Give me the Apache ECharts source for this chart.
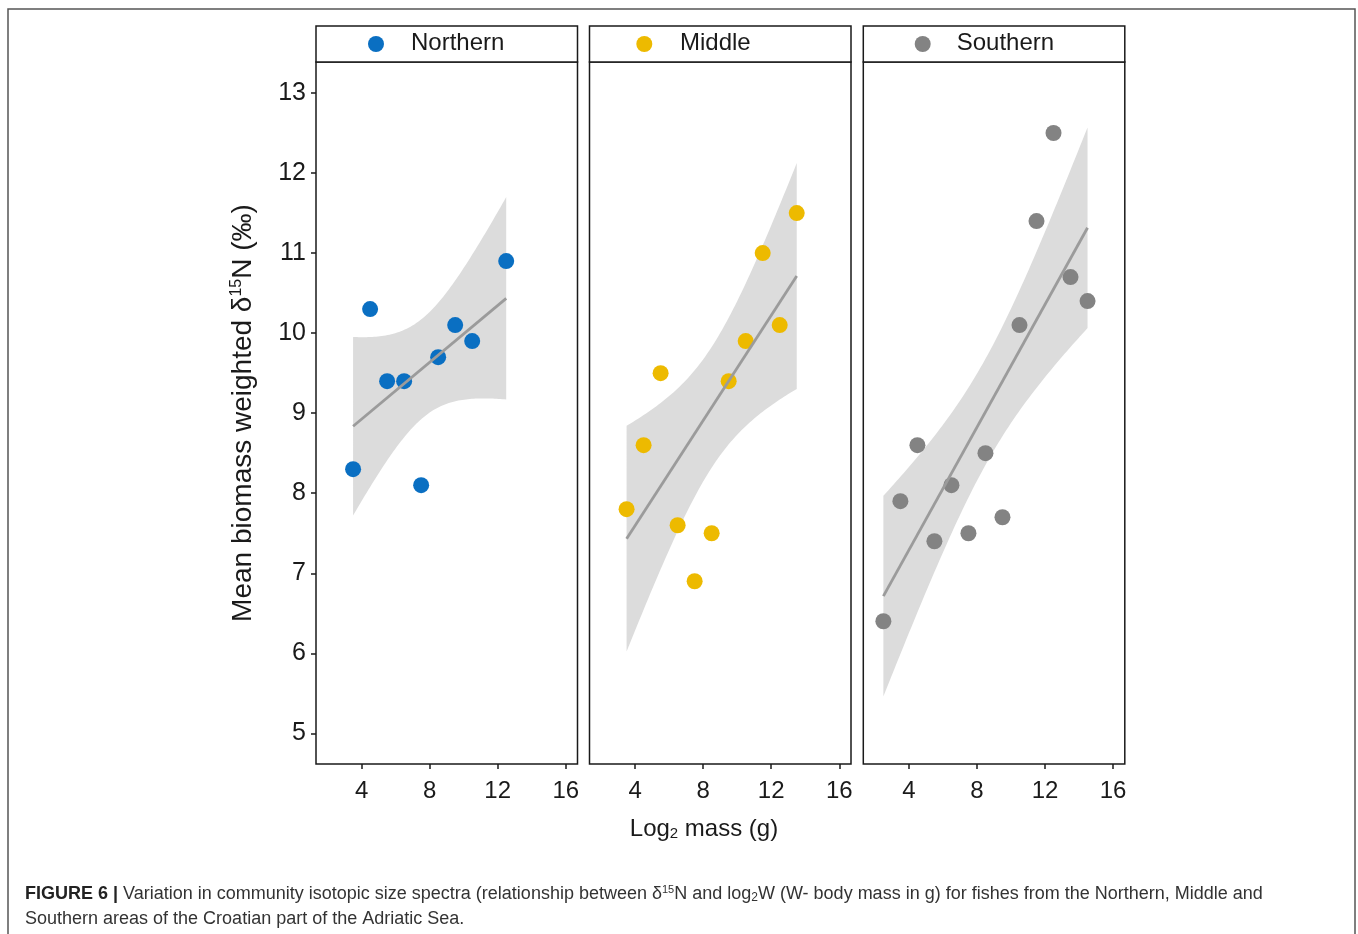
<!DOCTYPE html>
<html>
<head>
<meta charset="utf-8">
<script src="https://cdn.jsdelivr.net/npm/echarts@6/dist/echarts.min.js"></script>
<style>
  html, body { margin: 0; padding: 0; background: #fff; }
  #chart { width: 1358px; height: 934px; }
</style>
</head>
<body>
<div id="chart"></div>
<script>
// tick labels
const xTicks = [4, 8, 12, 16];
const yTicks = [5, 6, 7, 8, 9, 10, 11, 12, 13];

// panels
const areas = ["Northern", "Middle", "Southern"];
const colors = ["#0A6FC2", "#EDBA00", "#838383"];

// log2 mass (g) and mean biomass weighted d15N per panel
const northX = [3.5, 4.5, 5.5, 6.5, 7.5, 8.5, 9.5, 10.5, 12.5];
const northY = [8.3, 10.3, 9.4, 9.4, 8.1, 9.7, 10.1, 9.9, 10.9];
const middleX = [3.5, 4.5, 5.5, 6.5, 7.5, 8.5, 9.5, 10.5, 11.5, 12.5, 13.5];
const middleY = [7.8, 8.6, 9.5, 7.6, 6.9, 7.5, 9.4, 9.9, 11.0, 10.1, 11.5];
const southX = [2.5, 3.5, 4.5, 5.5, 6.5, 7.5, 8.5, 9.5, 10.5, 11.5, 12.5, 13.5, 14.5];
const southY = [6.4, 7.9, 8.6, 7.4, 8.1, 7.5, 8.5, 7.7, 10.1, 11.4, 12.5, 10.7, 10.4];

const panelX = [northX, middleX, southX];
const panelY = [northY, middleY, southY];

// t quantiles (0.975) for the 95% band, by residual df
const tQuant = { 7: 2.3646, 9: 2.2622, 11: 2.2010 };

// linear fit + confidence band, like geom_smooth(method = "lm")
function lmFit(xs, ys) {
    const n = xs.length;
    const mx = xs.reduce((a, b) => a + b, 0) / n;
    const my = ys.reduce((a, b) => a + b, 0) / n;
    let sxx = 0, sxy = 0;
    xs.forEach((x, i) => {
        sxx += (x - mx) * (x - mx);
        sxy += (x - mx) * (ys[i] - my);
    });
    const b = sxy / sxx;
    const a = my - b * mx;
    let ssr = 0;
    xs.forEach((x, i) => {
        const r = ys[i] - (a + b * x);
        ssr += r * r;
    });
    const s = Math.sqrt(ssr / (n - 2));
    const t = tQuant[n - 2];
    const x0 = Math.min(...xs);
    const x1 = Math.max(...xs);
    const band = [];
    for (let k = 0; k <= 80; k++) {
        const x = x0 + ((x1 - x0) * k) / 80;
        const fit = a + b * x;
        const se = s * Math.sqrt(1 / n + ((x - mx) * (x - mx)) / sxx);
        band.push([x, fit - t * se, fit + t * se]);
    }
    return { line: [[x0, a + b * x0], [x1, a + b * x1]], band };
}

const lefts = [316, 589.5, 863.3];
const plotW = 261.5;
const plotTop = 62;
const plotH = 702;

const grid = [];
const xAxis = [];
const yAxis = [];
const series = [];
const graphic = [];

const stripDotX = [376, 644.3, 922.7];
const stripTextX = [411, 680, 956.7];

areas.forEach((name, i) => {
    grid.push({
        left: lefts[i],
        top: plotTop,
        width: plotW,
        height: plotH,
        show: true,
        borderColor: "#1a1a1a",
        borderWidth: 1.5,
        backgroundColor: "#fff"
    });
    xAxis.push({
        type: "value",
        gridIndex: i,
        min: 1.32,
        max: 16.69,
        axisLine: { show: false },
        axisTick: {
            show: true,
            inside: false,
            length: 5,
            customValues: xTicks,
            lineStyle: { color: "#1a1a1a", width: 1.5 }
        },
        axisLabel: {
            show: true,
            customValues: xTicks,
            margin: 15,
            color: "#1a1a1a",
            fontSize: 24,
            fontFamily: "Liberation Sans"
        },
        splitLine: { show: false }
    });
    yAxis.push({
        type: "value",
        gridIndex: i,
        min: 4.617,
        max: 13.387,
        name: i === 0 ? "{a|Mean biomass weighted δ}{s|15}{a|N (‰)}" : "",
        nameLocation: "middle",
        nameGap: 59,
        nameRotate: 90,
        nameTextStyle: {
            rich: {
                a: { fontSize: 28, color: "#1a1a1a", fontFamily: "Liberation Sans" },
                s: { fontSize: 16, color: "#1a1a1a", fontFamily: "Liberation Sans", verticalAlign: "top", padding: [0, 0, 12, 0] }
            }
        },
        axisLine: { show: false },
        axisTick: {
            show: i === 0,
            inside: false,
            length: 5,
            customValues: yTicks,
            lineStyle: { color: "#1a1a1a", width: 1.5 }
        },
        axisLabel: {
            show: i === 0,
            customValues: yTicks,
            margin: 10,
            color: "#1a1a1a",
            fontSize: 25,
            fontFamily: "Liberation Sans"
        },
        splitLine: { show: false }
    });

    const fit = lmFit(panelX[i], panelY[i]);

    series.push({
        type: "custom",
        xAxisIndex: i,
        yAxisIndex: i,
        data: fit.band,
        encode: { x: 0, y: [1, 2] },
        silent: true,
        z: 1,
        renderItem: function (params, api) {
            if (params.dataIndex !== 0) return;
            const upper = fit.band.map((d) => api.coord([d[0], d[2]]));
            const lower = fit.band.map((d) => api.coord([d[0], d[1]])).reverse();
            return {
                type: "polygon",
                shape: { points: upper.concat(lower) },
                style: { fill: "#dcdcdc" }
            };
        }
    });
    series.push({
        type: "scatter",
        xAxisIndex: i,
        yAxisIndex: i,
        data: panelX[i].map((x, k) => [x, panelY[i][k]]),
        symbolSize: 16,
        itemStyle: { color: colors[i], opacity: 1 },
        z: 2
    });
    series.push({
        type: "line",
        xAxisIndex: i,
        yAxisIndex: i,
        data: fit.line,
        showSymbol: false,
        lineStyle: { color: "#9b9b9b", width: 2.8 },
        z: 3
    });

    // strip box on top of each panel
    graphic.push({
        type: "rect",
        shape: { x: lefts[i], y: 26, width: plotW, height: 36 },
        style: { fill: "#fff", stroke: "#1a1a1a", lineWidth: 1.5 }
    });
    graphic.push({
        type: "circle",
        shape: { cx: stripDotX[i], cy: 44, r: 8 },
        style: { fill: colors[i] }
    });
    graphic.push({
        type: "text",
        x: stripTextX[i],
        y: 43,
        style: {
            text: name,
            fontSize: 24,
            fontFamily: "Liberation Sans",
            fill: "#1a1a1a",
            verticalAlign: "middle"
        }
    });
});

// outer figure frame
graphic.push({
    type: "rect",
    shape: { x: 8, y: 9, width: 1347, height: 940 },
    style: { fill: null, stroke: "#555", lineWidth: 1.5 },
    z: -10
});

// x axis title
graphic.push({
    type: "text",
    x: 704,
    y: 829,
    style: {
        text: "{a|Log}{s|2}{a| mass (g)}",
        align: "center",
        verticalAlign: "middle",
        rich: {
            a: { fontSize: 24, fill: "#1a1a1a", fontFamily: "Liberation Sans" },
            s: { fontSize: 15, fill: "#1a1a1a", fontFamily: "Liberation Sans", verticalAlign: "bottom", padding: [10, 0, 0, 0] }
        }
    }
});

// caption
graphic.push({
    type: "text",
    x: 25,
    y: 894,
    style: {
        text: "{b|FIGURE 6 |}{t| Variation in community isotopic size spectra (relationship between δ}{s|15}{t|N and log}{d|2}{t|W (W- body mass in g) for fishes from the Northern, Middle and}",
        verticalAlign: "middle",
        rich: {
            b: { fontSize: 18, fontWeight: "bold", fill: "#222", fontFamily: "Liberation Sans" },
            t: { fontSize: 18, fill: "#333", fontFamily: "Liberation Sans" },
            s: { fontSize: 11, fill: "#333", fontFamily: "Liberation Sans", verticalAlign: "top", padding: [0, 0, 7, 0] },
            d: { fontSize: 12, fill: "#333", fontFamily: "Liberation Sans", verticalAlign: "bottom", padding: [7, 0, 0, 0] }
        }
    }
});
graphic.push({
    type: "text",
    x: 25,
    y: 919,
    style: {
        text: "Southern areas of the Croatian part of the Adriatic Sea.",
        verticalAlign: "middle",
        fontSize: 18,
        fill: "#333",
        fontFamily: "Liberation Sans"
    }
});

const chart = echarts.init(document.getElementById("chart"));
chart.setOption({
    animation: false,
    backgroundColor: "#fff",
    grid,
    xAxis,
    yAxis,
    series,
    graphic
});
</script>
</body>
</html>
